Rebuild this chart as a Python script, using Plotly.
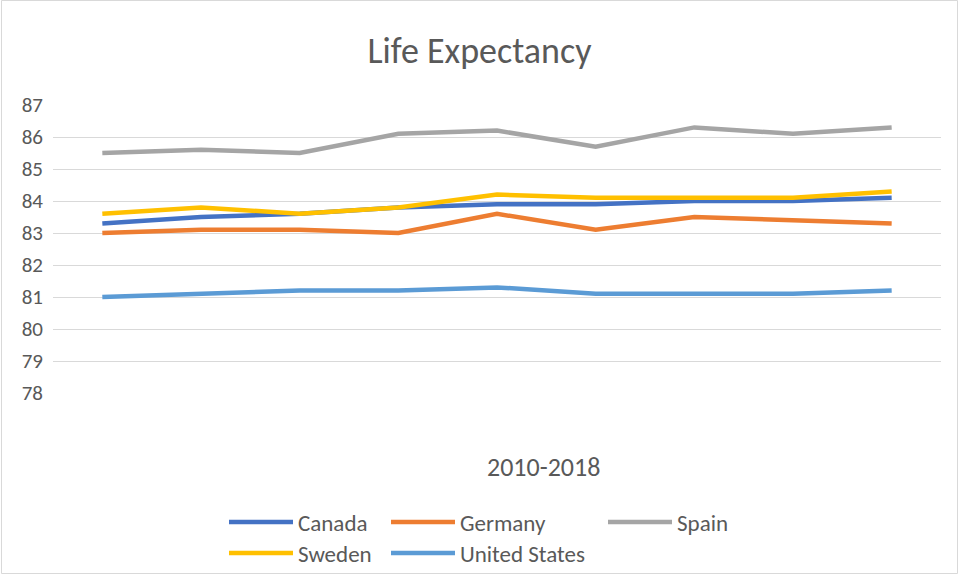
import plotly.graph_objects as go

years = [2010, 2011, 2012, 2013, 2014, 2015, 2016, 2017, 2018]
canada = [83.3, 83.5, 83.6, 83.8, 83.9, 83.9, 84.0, 84.0, 84.1]
germany = [83.0, 83.1, 83.1, 83.0, 83.6, 83.1, 83.5, 83.4, 83.3]
spain = [85.5, 85.6, 85.5, 86.1, 86.2, 85.7, 86.3, 86.1, 86.3]
sweden = [83.6, 83.8, 83.6, 83.8, 84.2, 84.1, 84.1, 84.1, 84.3]
united_states = [81.0, 81.1, 81.2, 81.2, 81.3, 81.1, 81.1, 81.1, 81.2]
y_ticks = [78, 79, 80, 81, 82, 83, 84, 85, 86, 87]

FONT = "Carlito, Lato, sans-serif"
TXT = "#595959"

W, H = 959, 575
L, R, T, B = 53, 18, 105, 182
PW, PH = W - L - R, H - T - B

def px_x(p):
    return (p - L) / PW

def px_y(p):
    return (H - B - p) / PH

series = [
    ("Canada", canada, "#4472C4", "legend", 224, 522),
    ("Germany", germany, "#ED7D31", "legend2", 386, 522),
    ("Spain", spain, "#A5A5A5", "legend3", 603, 522),
    ("Sweden", sweden, "#FFC000", "legend4", 224, 553),
    ("United States", united_states, "#5B9BD5", "legend5", 386, 553),
]

fig = go.Figure()
for name, vals, col, lg, lx, ly in series:
    fig.add_trace(go.Scatter(
        x=years, y=vals, name=name, mode="lines",
        line=dict(color=col, width=4.5),
        legend=lg,
    ))

layout_legends = {}
for name, vals, col, lg, lx, ly in series:
    layout_legends[lg] = dict(
        x=px_x(lx), y=px_y(ly), xanchor="left", yanchor="middle",
        xref="paper", yref="paper", itemwidth=64,
        font=dict(family=FONT, size=23, color=TXT),
        bgcolor="rgba(0,0,0,0)", borderwidth=0,
    )

fig.update_layout(
    width=W, height=H,
    margin=dict(l=L, r=R, t=T, b=B, autoexpand=False),
    paper_bgcolor="white", plot_bgcolor="white",
    font=dict(family=FONT, color=TXT),
    title=dict(text="Life Expectancy", x=0.5, xanchor="center",
               y=1 - 50 / H, yanchor="middle",
               font=dict(family=FONT, size=36, color=TXT)),
    showlegend=True,
    xaxis=dict(range=[2009.5, 2018.5], showgrid=False, showticklabels=False,
               ticks="", zeroline=False, showline=False),
    yaxis=dict(range=[78, 87], tickvals=y_ticks, showgrid=True,
               gridcolor="#D9D9D9", gridwidth=1.3, zeroline=False,
               showline=False, ticks="", ticklabelstandoff=9,
               tickfont=dict(family=FONT, size=21, color=TXT)),
    annotations=[dict(text="2010-2018", x=px_x(543), y=px_y(467),
                      xref="paper", yref="paper", showarrow=False,
                      xanchor="center", yanchor="middle",
                      font=dict(family=FONT, size=26, color=TXT))],
    shapes=[dict(type="rect", xref="paper", yref="paper",
                 x0=px_x(1.5), x1=px_x(957.5), y0=px_y(573.5), y1=px_y(0.5),
                 line=dict(color="#D9D9D9", width=1), layer="below")],
    **layout_legends,
)

fig.write_html("out.html", config={"displayModeBar": False},
               post_script="document.body.style.margin='0';document.body.style.overflow='hidden';")
